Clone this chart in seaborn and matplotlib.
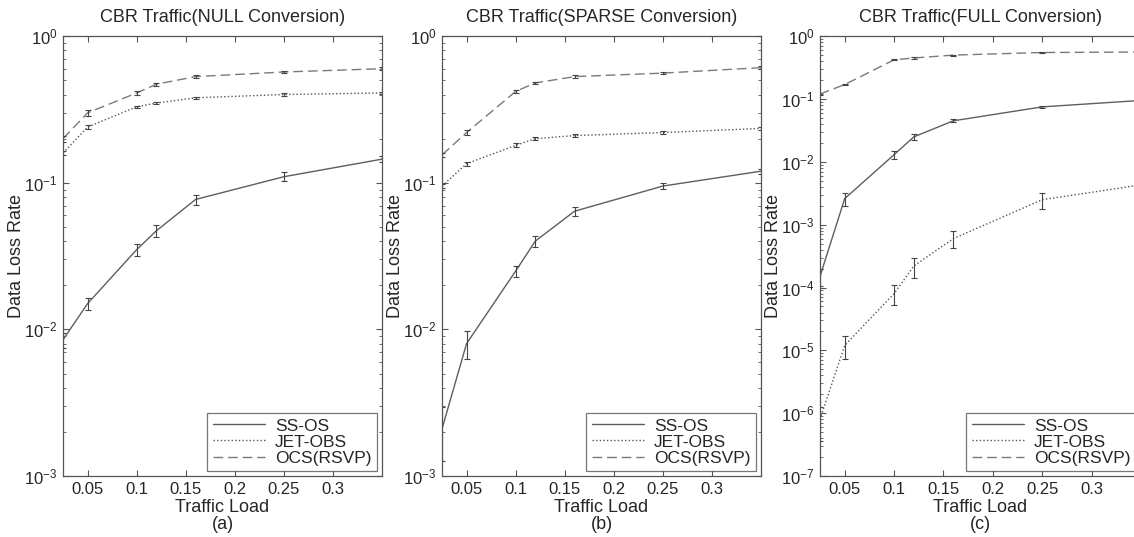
import numpy as np
import pandas as pd
import seaborn as sns
import matplotlib
matplotlib.use("Agg")
import matplotlib.pyplot as plt
from matplotlib.ticker import FixedLocator, FixedFormatter, LogLocator, NullFormatter

# Traffic load values (x axis)
load = [0.025, 0.05, 0.1, 0.12, 0.16, 0.25, 0.35]
methods = ["SS-OS", "JET-OBS", "OCS(RSVP)"]

# (a) NULL conversion
null_ssos = [0.0085, 0.015, 0.035, 0.047, 0.077, 0.11, 0.145]
null_jet = [0.16, 0.24, 0.33, 0.35, 0.38, 0.40, 0.41]
null_ocs = [0.20, 0.30, 0.41, 0.47, 0.53, 0.57, 0.60]
null_ssos_err = [0.12, 0.09, 0.10, 0.09, 0.08, 0.07, 0.05]
null_jet_err = [0.03, 0.03, 0.02, 0.02, 0.02, 0.02, 0.02]
null_ocs_err = [0.05, 0.05, 0.03, 0.02, 0.02, 0.02, 0.02]

# (b) SPARSE conversion
sparse_ssos = [0.0021, 0.008, 0.025, 0.040, 0.064, 0.095, 0.12]
sparse_jet = [0.095, 0.135, 0.18, 0.20, 0.21, 0.22, 0.235]
sparse_ocs = [0.155, 0.22, 0.42, 0.48, 0.53, 0.56, 0.61]
sparse_ssos_err = [0.40, 0.22, 0.09, 0.09, 0.07, 0.05, 0.04]
sparse_jet_err = [0.03, 0.03, 0.03, 0.02, 0.02, 0.02, 0.02]
sparse_ocs_err = [0.03, 0.04, 0.02, 0.02, 0.02, 0.02, 0.02]

# (c) FULL conversion
full_ssos = [1.5e-4, 2.6e-3, 1.3e-2, 2.5e-2, 4.5e-2, 7.5e-2, 9.5e-2]
full_jet = [8e-7, 1.2e-5, 8e-5, 2.2e-4, 6e-4, 2.5e-3, 4.3e-3]
full_ocs = [0.12, 0.17, 0.42, 0.45, 0.50, 0.55, 0.56]
full_ssos_err = [0.30, 0.25, 0.15, 0.10, 0.05, 0.05, 0.03]
full_jet_err = [0.55, 0.40, 0.35, 0.35, 0.30, 0.30, 0.05]
full_ocs_err = [0.02, 0.02, 0.02, 0.02, 0.02, 0.02, 0.02]

titles = ["CBR Traffic(NULL Conversion)", "CBR Traffic(SPARSE Conversion)",
          "CBR Traffic(FULL Conversion)"]
sublabels = ["(a)", "(b)", "(c)"]
ylows = [1e-3, 1e-3, 1e-7]
xtick_vals = [0.05, 0.1, 0.15, 0.2, 0.25, 0.3]
xtick_text = ["0.05", "0.1", "0.15", "0.2", "0.25", "0.3"]

panels = [
    (null_ssos, null_jet, null_ocs, null_ssos_err, null_jet_err, null_ocs_err),
    (sparse_ssos, sparse_jet, sparse_ocs, sparse_ssos_err, sparse_jet_err, sparse_ocs_err),
    (full_ssos, full_jet, full_ocs, full_ssos_err, full_jet_err, full_ocs_err),
]

sns.set_style("ticks")
plt.rcParams["font.family"] = ["Liberation Sans", "DejaVu Sans"]
plt.rcParams["mathtext.default"] = "regular"

palette = {"SS-OS": "#5e5e5e", "JET-OBS": "#555555", "OCS(RSVP)": "#7a7a7a"}
dashes = {"SS-OS": "", "JET-OBS": (1, 1.6), "OCS(RSVP)": (7, 3.5)}

fig = plt.figure(figsize=(11.34, 5.37), dpi=100)
lefts = [0.0556, 0.3898, 0.7231]
widths = [0.2813, 0.2813, 0.2831]

for i, (ss, jet, ocs, ss_e, jet_e, ocs_e) in enumerate(panels):
    ax = fig.add_axes([lefts[i], 0.1136, widths[i], 0.819])
    df = pd.DataFrame({
        "load": load * 3,
        "rate": ss + jet + ocs,
        "method": [m for m in methods for _ in load],
    })
    sns.lineplot(data=df, x="load", y="rate", hue="method", style="method",
                 palette=palette, dashes=dashes, linewidth=1.0, ax=ax)
    for vals, errs in [(ss, ss_e), (jet, jet_e), (ocs, ocs_e)]:
        v = np.array(vals)
        e = v * np.array(errs)
        ax.errorbar(load, v, yerr=[e, e], fmt="none", ecolor="#444444",
                    elinewidth=0.8, capsize=2.5, capthick=0.8)
    ax.set_yscale("log")
    ax.set_ylim(ylows[i], 1)
    ax.set_xlim(0.025, 0.35)
    ax.xaxis.set_major_locator(FixedLocator(xtick_vals))
    ax.xaxis.set_major_formatter(FixedFormatter(xtick_text))
    ax.yaxis.set_major_locator(LogLocator(base=10, numticks=12))
    ax.yaxis.set_minor_locator(LogLocator(base=10, subs=np.arange(2, 10), numticks=12))
    ax.yaxis.set_minor_formatter(NullFormatter())
    ax.tick_params(which="both", direction="in", top=True, right=True,
                   labelsize=12, color="#555555")
    ax.tick_params(which="major", length=4, pad=4)
    ax.tick_params(which="minor", length=2)
    for sp in ax.spines.values():
        sp.set_color("#555555")
        sp.set_linewidth(0.9)
    ax.set_title(titles[i], fontsize=13, pad=10)
    ax.set_xlabel("Traffic Load", fontsize=13, labelpad=2)
    ax.text(0.5, -0.11, sublabels[i], transform=ax.transAxes, ha="center",
            va="center", fontsize=13)
    ax.set_ylabel("Data Loss Rate", fontsize=13)
    ax.yaxis.set_label_coords(-0.118, 0.5)
    leg = ax.legend(loc="lower right", fontsize=12.5, handlelength=3.0,
                    frameon=True, fancybox=False, borderaxespad=0.3,
                    labelspacing=0.05, borderpad=0.3, handletextpad=0.6)
    leg.get_frame().set_edgecolor("#555555")
    leg.get_frame().set_linewidth(0.9)

fig.savefig("out.png", dpi=100)
